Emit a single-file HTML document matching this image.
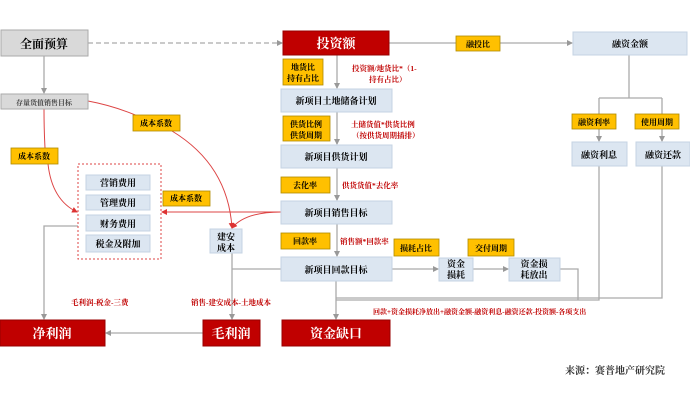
<!DOCTYPE html>
<html><head><meta charset="utf-8"><style>
html,body{margin:0;padding:0;background:#fff;}
svg{display:block;}
text{font-family:"Liberation Serif","Noto Serif CJK SC",serif;font-weight:bold;}
</style></head><body>
<svg width="690" height="400" viewBox="0 0 690 400" xmlns="http://www.w3.org/2000/svg">
<defs>
<marker id="ag" markerWidth="6" markerHeight="6" refX="5" refY="3" orient="auto" markerUnits="userSpaceOnUse"><path d="M0,0 L6,3 L0,6 z" fill="#999"/></marker>
<marker id="ar" markerWidth="6" markerHeight="6" refX="5" refY="3" orient="auto" markerUnits="userSpaceOnUse"><path d="M0,0 L6,3 L0,6 z" fill="#d33"/></marker>
</defs>
<g stroke="#aaa" stroke-width="1.3" fill="none">
<line x1="88" y1="43" x2="282" y2="43" stroke-dasharray="5,3" marker-end="url(#ag)"/>
<line x1="44" y1="56" x2="44" y2="93" marker-end="url(#ag)"/>
<line x1="389" y1="43" x2="572" y2="43" marker-end="url(#ag)"/>
<line x1="629" y1="55" x2="629" y2="98"/>
<line x1="599" y1="98" x2="662" y2="98"/>
<line x1="599" y1="98" x2="599" y2="141" marker-end="url(#ag)"/>
<line x1="662" y1="98" x2="662" y2="141" marker-end="url(#ag)"/>
<polyline points="599,166 599,300 336,300"/>
<polyline points="662,166 662,298 336,298"/>
<line x1="337" y1="55" x2="337" y2="88" marker-end="url(#ag)"/>
<line x1="337" y1="112" x2="337" y2="144" marker-end="url(#ag)"/>
<line x1="337" y1="168" x2="337" y2="200" marker-end="url(#ag)"/>
<line x1="337" y1="224" x2="337" y2="256" marker-end="url(#ag)"/>
<line x1="336" y1="281" x2="336" y2="319" marker-end="url(#ag)"/>
<line x1="392" y1="269" x2="438" y2="269" marker-end="url(#ag)"/>
<line x1="473" y1="269" x2="508" y2="269" marker-end="url(#ag)"/>
<polyline points="560,269 578,269 578,300"/>
<line x1="281" y1="269" x2="232" y2="269"/>
<line x1="232" y1="253" x2="232" y2="319" marker-end="url(#ag)"/>
<line x1="203" y1="333" x2="106" y2="333" marker-end="url(#ag)"/>
<polyline points="78,226 44,226 44,319" marker-end="url(#ag)"/>
</g>
<g stroke="#d44" stroke-width="1" fill="none">
<path d="M88,101 Q115,106 140,117"/>
<path d="M172,131 Q228,165 232,228" marker-end="url(#ar)"/>
<path d="M44,109 Q44,130 45,148"/>
<path d="M48,164 Q52,200 77,212" marker-end="url(#ar)"/>
<line x1="281" y1="212" x2="162" y2="212" marker-end="url(#ar)"/>
<path d="M281,212 Q245,212 232,228" marker-end="url(#ar)"/>
<rect x="78" y="164" width="83" height="95" stroke-dasharray="2,2"/>
</g>
<g stroke="#aaa" stroke-width="1">
<rect x="1" y="30" width="87" height="26" fill="#d9d9d9"/>
<rect x="1" y="94" width="87" height="15" fill="#d9d9d9"/>
</g>
<g fill="#c00000" stroke="#900" stroke-width="1">
<rect x="283" y="31" width="106" height="24"/>
<rect x="0" y="320" width="105" height="26"/>
<rect x="203" y="320" width="57" height="26"/>
<rect x="282" y="320" width="108" height="26"/>
</g>
<g fill="#dce6f1" stroke="#c5d3e3" stroke-width="1">
<rect x="573" y="32" width="114" height="23"/>
<rect x="572" y="142" width="55" height="24"/>
<rect x="636" y="142" width="54" height="24"/>
<rect x="281" y="89" width="111" height="23"/>
<rect x="281" y="145" width="111" height="23"/>
<rect x="281" y="201" width="111" height="23"/>
<rect x="281" y="257" width="111" height="24"/>
<rect x="210" y="229" width="32" height="24"/>
<rect x="439" y="258" width="34" height="23"/>
<rect x="509" y="258" width="51" height="23"/>
<rect x="86" y="175" width="64" height="15"/>
<rect x="86" y="195" width="64" height="15"/>
<rect x="86" y="215" width="64" height="16"/>
<rect x="86" y="235" width="64" height="17"/>
</g>
<g fill="#ffc000" stroke="#b08a00" stroke-width="0.8">
<rect x="11" y="148" width="47" height="16"/>
<rect x="133" y="115" width="47" height="16"/>
<rect x="163" y="191" width="47" height="15"/>
<rect x="456" y="36" width="44" height="15"/>
<rect x="572" y="114" width="44" height="15"/>
<rect x="635" y="114" width="44" height="15"/>
<rect x="283" y="59" width="40" height="26"/>
<rect x="283" y="116" width="47" height="25"/>
<rect x="281" y="177" width="49" height="16"/>
<rect x="281" y="233" width="49" height="16"/>
<rect x="394" y="239" width="45" height="17"/>
<rect x="468" y="239" width="46" height="17"/>
</g>
<g font-size="8" fill="#000" text-anchor="middle">
<text x="44" y="48" font-size="12">全面预算</text>
<text x="44" y="105" font-size="7" fill="#444" font-weight="normal">存量货值销售目标</text>
<text x="34" y="159">成本系数</text>
<text x="156" y="126">成本系数</text>
<text x="186" y="201">成本系数</text>
<text x="118" y="186" font-size="9">营销费用</text>
<text x="118" y="206" font-size="9">管理费用</text>
<text x="118" y="227" font-size="9">财务费用</text>
<text x="118" y="247" font-size="9">税金及附加</text>
<text x="336" y="48" font-size="13" fill="#fff">投资额</text>
<text x="478" y="47">融投比</text>
<text x="630" y="47" font-size="9">融资金额</text>
<text x="594" y="125">融资利率</text>
<text x="657" y="125">使用周期</text>
<text x="599" y="158" font-size="9">融资利息</text>
<text x="663" y="158" font-size="9">融资还款</text>
<text x="303" y="70">地货比</text>
<text x="303" y="81">持有占比</text>
<text x="306" y="127">供货比例</text>
<text x="306" y="138">供货周期</text>
<text x="305" y="188">去化率</text>
<text x="305" y="244">回款率</text>
<text x="416" y="251">损耗占比</text>
<text x="491" y="251">交付周期</text>
<text x="336" y="104" font-size="9">新项目土地储备计划</text>
<text x="336" y="160" font-size="9">新项目供货计划</text>
<text x="336" y="216" font-size="9">新项目销售目标</text>
<text x="336" y="273" font-size="9">新项目回款目标</text>
<text x="226" y="240" font-size="9">建安</text>
<text x="226" y="251" font-size="9">成本</text>
<text x="456" y="267" font-size="9">资金</text>
<text x="456" y="278" font-size="9">损耗</text>
<text x="534" y="267" font-size="9">资金损</text>
<text x="534" y="278" font-size="9">耗放出</text>
<text x="52" y="338" font-size="13" fill="#fff">净利润</text>
<text x="231" y="338" font-size="13" fill="#fff">毛利润</text>
<text x="336" y="338" font-size="13" fill="#fff">资金缺口</text>
</g>
<g font-size="7.5" fill="#c00000">
<text x="352" y="71">投资额/地货比*（1-</text>
<text x="369" y="82">持有占比）</text>
<text x="351" y="127">土储货值*供货比例</text>
<text x="352" y="138">（按供货周期插排）</text>
<text x="342" y="188">供货货值*去化率</text>
<text x="340" y="244">销售额*回款率</text>
<text x="71" y="305">毛利润-税金-三费</text>
<text x="191" y="305">销售-建安成本-土地成本</text>
<text x="373" y="314" font-size="7">回款+资金损耗净放出+融资金额-融资利息-融资还款-投资额-各项支出</text>
</g>
<text x="565" y="374" font-size="10" fill="#333" font-weight="normal">来源：赛普地产研究院</text>
</svg>
</body></html>
